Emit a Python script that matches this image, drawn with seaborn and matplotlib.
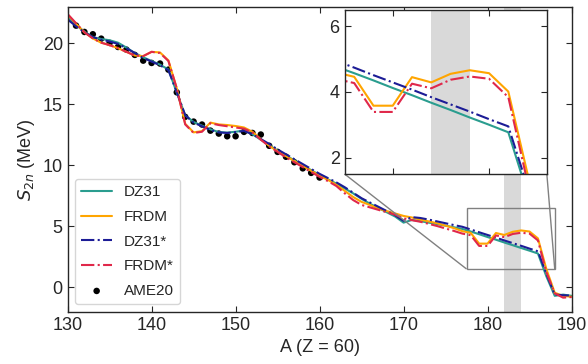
import numpy as np
import pandas as pd
import matplotlib
matplotlib.use("Agg")
import matplotlib.pyplot as plt
import seaborn as sns
from mpl_toolkits.axes_grid1.inset_locator import mark_inset

# ---------------- data ----------------
A = list(range(130, 191))

dz31 = [22.1, 21.5, 20.95, 20.5, 20.35, 20.25, 20.05, 19.65, 19.2, 18.85,
        18.55, 18.25, 17.85, 15.95, 14.1, 13.55, 13.25, 12.95, 12.72, 12.68,
        12.75, 12.85, 12.55, 12.1, 11.65, 11.2, 10.8, 10.4, 10.0, 9.6,
        9.2, 8.85, 8.5, 8.1, 7.7, 7.25, 6.85, 6.5, 6.15, 5.8,
        5.3, 5.52, 5.42, 5.3, 5.18, 5.05, 4.92, 4.78, 4.57, 4.35,
        4.12, 3.90, 3.67, 3.45, 3.22, 3.00, 2.77, 0.9, -0.7, -0.6, -0.7]

frdm = [22.35, 21.6, 20.9, 20.4, 20.05, 19.85, 19.6, 19.3, 19.0, 18.95,
        19.3, 19.25, 18.6, 16.3, 13.4, 12.7, 12.8, 13.5, 13.35, 13.3,
        13.22, 13.1, 12.75, 12.15, 11.6, 11.15, 10.75, 10.35, 9.95, 9.55,
        9.15, 8.8, 8.4, 7.9, 7.4, 7.0, 6.75, 6.45, 6.25, 6.05,
        5.85, 5.72, 5.55, 5.4, 5.25, 5.05, 4.85, 4.6, 4.46, 3.58,
        3.58, 4.45, 4.29, 4.55, 4.66, 4.57, 4.01, 1.5, -0.45, -0.7, -0.78]

dz31_star = [21.95, 21.4, 20.9, 20.5, 20.3, 20.15, 19.95, 19.6, 19.2, 18.8,
             18.5, 18.2, 17.8, 16.0, 14.1, 13.5, 13.2, 12.9, 12.7, 12.65,
             12.72, 12.82, 12.55, 12.15, 11.75, 11.3, 10.9, 10.5, 10.1, 9.7,
             9.3, 8.95, 8.6, 8.2, 7.75, 7.3, 6.95, 6.6, 6.25, 5.9,
             5.45, 5.75, 5.68, 5.55, 5.4, 5.25, 5.1, 4.96, 4.74, 4.51,
             4.29, 4.07, 3.84, 3.62, 3.40, 3.17, 2.95, 1.11, -0.6, -0.65, -0.68]

frdm_star = [22.4, 21.65, 20.9, 20.4, 20.05, 19.85, 19.6, 19.3, 19.0, 18.95,
             19.3, 19.2, 18.55, 16.3, 13.35, 12.65, 12.75, 13.45, 13.3, 13.2,
             13.1, 13.0, 12.7, 12.1, 11.55, 11.1, 10.65, 10.25, 9.85, 9.45,
             9.05, 8.7, 8.3, 7.7, 7.15, 6.75, 6.55, 6.35, 6.15, 5.95,
             5.65, 5.5, 5.37, 5.2, 5.02, 4.82, 4.62, 4.4, 4.27, 3.39,
             3.39, 4.25, 4.11, 4.37, 4.47, 4.40, 3.84, 1.24, -0.5, -0.85, -0.8]

ame_A = list(range(131, 161))
ame20 = [21.45, 20.93, 20.74, 20.38, 20.03, 19.70, 19.48, 19.05, 18.58, 18.39,
         18.34, 17.84, 15.98, 13.97, 13.58, 13.34, 12.84, 12.6, 12.38, 12.38,
         12.74, 12.65, 12.52, 11.6, 11.1, 10.7, 10.25, 9.75, 9.38, 9.0]

shade = (182, 184)
xticks = [130, 140, 150, 160, 170, 180, 190]
yticks = [0, 5, 10, 15, 20]
inset_xlim = (177.5, 188)
inset_ylim = (1.5, 6.5)

series = [
    ("DZ31", dz31, "#2A9D8F", "-"),
    ("FRDM", frdm, "#FFA500", "-"),
    ("DZ31*", dz31_star, "#1C1C96", "-."),
    ("FRDM*", frdm_star, "#E0284A", "-."),
]

# ---------------- style ----------------
sns.set_style("ticks")
plt.rcParams["font.family"] = ["Liberation Sans", "DejaVu Sans"]
plt.rcParams["xtick.direction"] = "in"
plt.rcParams["ytick.direction"] = "in"

fig = plt.figure(figsize=(5.88, 3.64), dpi=100)
ax = fig.add_axes([0.115, 0.1437, 0.857, 0.8379])


def draw(axis, legend):
    axis.axvspan(shade[0], shade[1], color="#D9D9D9", lw=0, zorder=0)
    for name, vals, col, ls in series:
        df = pd.DataFrame({"A": A, "S": vals})
        sns.lineplot(data=df, x="A", y="S", ax=axis, color=col, linestyle=ls,
                     lw=1.5, label=name if legend else None, zorder=2)


draw(ax, True)
sns.scatterplot(x=ame_A, y=ame20, ax=ax, color="black", s=22, edgecolor="none",
                label="AME20", zorder=1.5)

ax.set_xlim(130, 190)
ax.set_ylim(-2, 23)
ax.set_xticks(xticks)
ax.set_yticks(yticks)
ax.tick_params(which="both", top=True, right=True, labelsize=13, length=4,
               width=0.8, color="0.15")
for sp in ax.spines.values():
    sp.set_color("0.15")
    sp.set_linewidth(1.0)
ax.set_xlabel("A (Z = 60)", fontsize=13, labelpad=4)
ax.set_ylabel(r"$S_{2n}$ (MeV)", fontsize=13, labelpad=4)

leg = ax.legend(loc="lower left", fontsize=11, frameon=True, labelspacing=0.7)

# ---------------- inset ----------------
axins = fig.add_axes([0.586, 0.522, 0.344, 0.451])
draw(axins, False)
axins.set_xlim(*inset_xlim)
axins.set_ylim(*inset_ylim)
axins.set_xticks([180, 185])
axins.set_xticklabels([])
axins.set_yticks([2, 4, 6])
axins.set_xlabel("")
axins.set_ylabel("")
axins.tick_params(which="both", top=True, right=True, labelsize=13, length=4,
                  width=0.8, color="0.15")
for sp in axins.spines.values():
    sp.set_color("0.15")
    sp.set_linewidth(1.0)
if axins.get_legend() is not None:
    axins.get_legend().remove()

mark_inset(ax, axins, loc1=3, loc2=4, fc="none", ec="0.5", lw=1.0)

fig.savefig("out.png", dpi=100)
